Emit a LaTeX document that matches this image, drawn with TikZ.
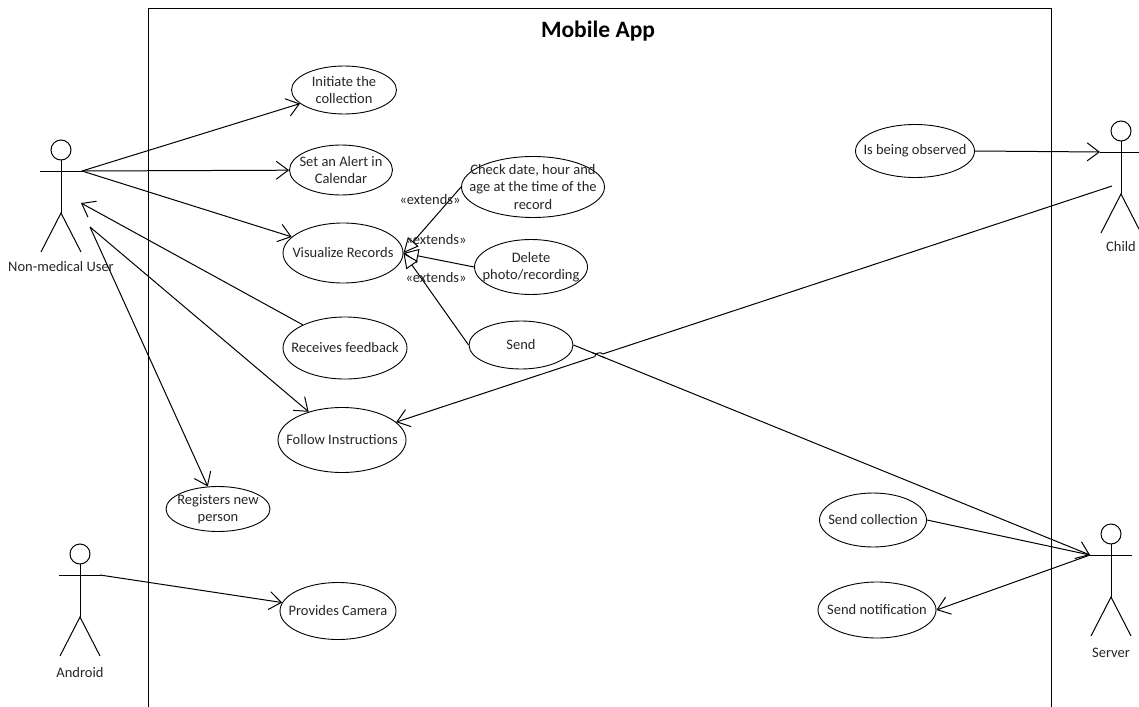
\documentclass[tikz,border=0pt]{standalone}
\usepackage{fontspec}
\setmainfont{Carlito}
\usetikzlibrary{shapes.geometric,arrows.meta,intersections,calc}
\tikzset{
  uc/.style={ellipse,draw,line width=0.9pt,inner sep=0pt},
  uctext/.style={inner sep=0pt,align=center,font=\fontsize{14.5}{17.5}\selectfont,text=black!85},
  lbl/.style={inner sep=0pt,font=\fontsize{14.5}{17.5}\selectfont,text=black!85},
  assoc/.style={line width=1pt,-{Straight Barb[length=12pt,width=18pt,line width=1pt]}},
  plain/.style={line width=1pt},
  ext/.style={line width=1pt,-{Triangle[open,length=15pt,width=14pt,fill=white,line width=1pt]}},
  actor/.pic={
    \draw[line width=1pt] (0,-21) circle (10);
    \draw[line width=1pt] (0,-11) -- (0,42);
    \draw[line width=1pt] (-21,0) -- (21,0);
    \draw[line width=1pt] (-20,81) -- (0,42) -- (20,81);
  }
}
\newcommand{\usecase}[6]{\node[uc,minimum width=#3,minimum height=#4,label={[uctext]center:{#6}}] (#1) at (#2) {};}
\begin{document}
\begin{tikzpicture}[x=1pt,y=-1pt]
\useasboundingbox (0,0) rectangle (1139,706);
\clip (0,0) rectangle (1139,706);
\fill[white] (0,0) rectangle (1139,706);
% system boundary
\draw[line width=1pt] (148,9) rectangle (1051,730);
\node[inner sep=0pt,font=\fontsize{23.5}{26}\selectfont\bfseries] (title) at (598,31) {Mobile App};

% actors
\pic at (61,171) {actor};
\node[lbl] (userlbl) at (61,267) {Non-medical User};
\coordinate (userR) at (82,171);
\coordinate (userF) at (81,203);
\coordinate (userL) at (90,227);

\pic at (80,575) {actor};
\node[lbl] (androidlbl) at (80,673) {Android};
\coordinate (androidR) at (100,575);

\pic at (1121,152) {actor};
\node[lbl] (childlbl) at (1121,247) {Child};
\coordinate (childL) at (1100,152);
\coordinate (childP) at (1112,186);

\pic at (1111,555) {actor};
\node[lbl] (serverlbl) at (1111,653) {Server};
\coordinate (serverL) at (1090,555);

% use cases
\usecase{init}{344,90}{105}{48}{}{Initiate the\\collection}
\usecase{alert}{341,170}{103}{50}{}{Set an Alert in\\Calendar}
\usecase{vis}{343,253}{120}{60}{}{Visualize Records}
\usecase{check}{533,187}{143}{61}{}{Check date, hour and\\age at the time of the\\record}
\usecase{delete}{531,267}{113}{55}{}{Delete\\photo/recording}
\usecase{sendUC}{521,345}{104}{48}{}{Send}
\usecase{feedback}{345,348}{124}{62}{}{Receives feedback}
\usecase{follow}{342,440}{128}{65}{}{Follow Instructions}
\usecase{register}{218,509}{104}{45}{}{Registers new\\person}
\usecase{camera}{338,611}{116}{57}{}{Provides Camera}
\usecase{observed}{915,151}{119}{53}{}{Is being observed}
\usecase{sendcoll}{873,520}{107}{54}{}{Send collection}
\usecase{sendnotif}{877,610}{118}{56}{}{Send notification}

% associations
\draw[assoc] (userR) -- (init);
\draw[assoc] (userR) -- (alert);
\draw[assoc] (userR) -- (vis);
\draw[assoc] (feedback) -- (userF);
\draw[assoc] (userL) -- (follow);
\draw[assoc] (userL) -- (register);
\draw[assoc] (androidR) -- (camera);
\draw[assoc] (observed.east) -- (childL);
\draw[assoc,name path=childline] (childP) -- (follow);
\draw[assoc,name path=sendline] (sendUC.east) -- (serverL);
\draw[plain] (sendcoll.east) -- (serverL);
\draw[assoc] (serverL) -- (sendnotif.east);

% line hop
\path[name intersections={of=childline and sendline,by=X}];
\coordinate (h1) at ($(X)!4pt!(childP)$);
\coordinate (h2) at ($(X)!4pt!(follow)$);
\draw[white,line width=3pt] (h2) -- (h1);
\draw[plain] ($(X)!7pt!(sendUC.east)$) -- ($(X)!7pt!(serverL)$);
\draw[plain] (h2) to[bend left=90] (h1);

% extends
\draw[ext] (check.west) -- (vis.east);
\draw[ext] (delete.west) -- (vis.east);
\draw[ext] (sendUC.west) -- (vis.east);
\node[lbl] (e1) at (430,200) {«extends»};
\node[lbl] (e2) at (436,240) {«extends»};
\node[lbl] (e3) at (436,278) {«extends»};
\end{tikzpicture}
\end{document}
